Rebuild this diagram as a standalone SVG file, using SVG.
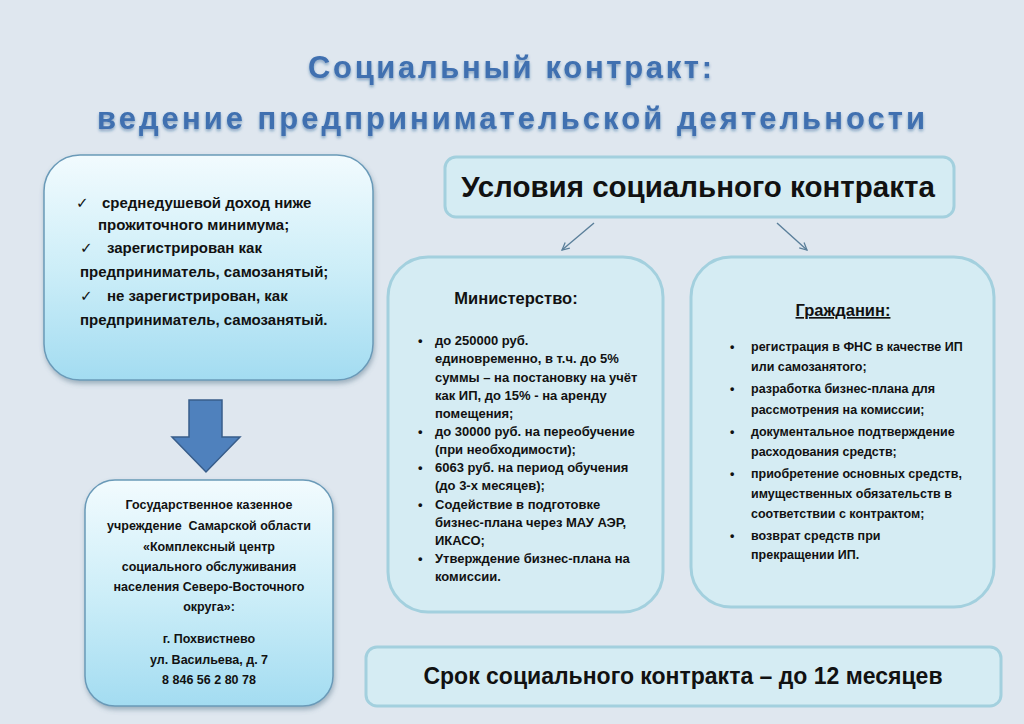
<svg xmlns="http://www.w3.org/2000/svg" width="1024" height="724" viewBox="0 0 1024 724">
<defs>
<linearGradient id="gradBlue" x1="0" y1="0" x2="0" y2="1">
<stop offset="0" stop-color="#f2fbfe"/>
<stop offset="0.5" stop-color="#cdeef8"/>
<stop offset="1" stop-color="#a3dcf1"/>
</linearGradient>
<filter id="shadow" x="-10%" y="-10%" width="120%" height="125%">
<feDropShadow dx="1" dy="3" stdDeviation="2.5" flood-color="#4a6a80" flood-opacity="0.45"/>
</filter>
<filter id="glow" x="-5%" y="-20%" width="110%" height="150%">
<feDropShadow dx="0" dy="2" stdDeviation="1.5" flood-color="#1f4f8a" flood-opacity="0.45"/>
</filter>
<marker id="arr" viewBox="0 0 10 10" refX="9" refY="5" markerWidth="9" markerHeight="9" orient="auto" markerUnits="userSpaceOnUse">
<path d="M1,1 L9,5 L1,9" fill="none" stroke="#5a7f9a" stroke-width="1.4"/>
</marker>
</defs>
<style>
.t{font-family:"Liberation Sans",Arial,sans-serif;font-weight:bold;fill:#111}
.title{font-family:"Liberation Sans",Arial,sans-serif;font-weight:bold;fill:#3f70b0;font-size:31px}
.grad{fill:url(#gradBlue);stroke:#6a9ab8;stroke-width:1.5}
.pale{fill:#d5ecf3;stroke:#a3d0de;stroke-width:3}
.chk{font-family:"DejaVu Sans",sans-serif;font-size:15px;fill:#111}
.s15{font-size:15px}
.s13{font-size:13px}
.s125{font-size:12.5px}
.c{text-anchor:middle}
.pre{white-space:pre}
.conn{stroke:#5a7f9a;stroke-width:1.4;fill:none}
</style>
<rect width="1024" height="724" fill="#dfe7ef"/>

<g id="title" filter="url(#glow)">
<text class="title" x="308" y="78" textLength="404" lengthAdjust="spacing">Социальный контракт:</text>
<text class="title" x="97" y="129" textLength="828" lengthAdjust="spacing">ведение предпринимательской деятельности</text>
</g>

<g id="criteria">
<rect class="grad" x="44" y="155" width="329" height="225" rx="36" filter="url(#shadow)"/>
<text class="chk" x="76" y="208">✓</text>
<text class="t s15" x="102" y="208">среднедушевой доход ниже</text>
<text class="t s15" x="98" y="230">прожиточного минимума;</text>
<text class="chk" x="80" y="253">✓</text>
<text class="t s15" x="107" y="253">зарегистрирован как</text>
<text class="t s15" x="80" y="277">предприниматель, самозанятый;</text>
<text class="chk" x="80" y="301">✓</text>
<text class="t s15" x="107" y="301">не зарегистрирован, как</text>
<text class="t s15" x="80" y="325">предприниматель, самозанятый.</text>
</g>

<g id="down-arrow">
<polygon points="189,400 222,400 222,437 240,437 206,472 172,437 189,437" fill="#4f81bd" stroke="#385d8a" stroke-width="1.5"/>
</g>

<g id="center">
<rect class="grad" x="85" y="480" width="248" height="226" rx="30" filter="url(#shadow)"/>
<text class="t s125 c" x="209" y="509">Государственное казенное</text>
<text class="t s125 c pre" x="209" y="530">учреждение  Самарской области</text>
<text class="t s125 c" x="209" y="551">«Комплексный центр</text>
<text class="t s125 c" x="209" y="571">социального обслуживания</text>
<text class="t s125 c" x="209" y="591">населения Северо-Восточного</text>
<text class="t s125 c" x="209" y="611">округа»:</text>
<text class="t s125 c" x="209" y="643">г. Похвистнево</text>
<text class="t s125 c" x="209" y="664">ул. Васильева, д. 7</text>
<text class="t s125 c" x="209" y="684">8 846 56 2 80 78</text>
</g>

<g id="conditions">
<rect class="pale" x="445" y="157" width="509" height="60" rx="11"/>
<text class="t c" x="698" y="197" font-size="29.5">Условия социального контракта</text>
</g>

<g id="connectors">
<line class="conn" x1="594" y1="223" x2="562" y2="250" marker-end="url(#arr)"/>
<line class="conn" x1="777" y1="223" x2="807" y2="250" marker-end="url(#arr)"/>
</g>

<g id="ministry">
<rect class="pale" x="388" y="257" width="275" height="355" rx="40"/>
<text class="t c" x="516" y="304" font-size="16.5">Министерство:</text>
<g class="t s13">
<text x="418" y="345">•</text>
<text x="435" y="345">до 250000 руб.</text>
<text x="435" y="363">единовременно, в т.ч. до 5%</text>
<text x="435" y="382">суммы – на постановку на учёт</text>
<text x="435" y="400">как ИП, до 15% - на аренду</text>
<text x="435" y="418">помещения;</text>
<text x="418" y="436">•</text>
<text x="435" y="436">до 30000 руб. на переобучение</text>
<text x="435" y="454">(при необходимости);</text>
<text x="418" y="472">•</text>
<text x="435" y="472">6063 руб. на период обучения</text>
<text x="435" y="490">(до 3-х месяцев);</text>
<text x="418" y="509">•</text>
<text x="435" y="509">Содействие в подготовке</text>
<text x="435" y="527">бизнес-плана через МАУ АЭР,</text>
<text x="435" y="545">ИКАСО;</text>
<text x="418" y="563">•</text>
<text x="435" y="563">Утверждение бизнес-плана на</text>
<text x="435" y="581">комиссии.</text>
</g>
</g>

<g id="citizen">
<rect class="pale" x="691" y="257" width="303" height="350" rx="40"/>
<text class="t c" x="843" y="316" font-size="16.5" text-decoration="underline">Гражданин:</text>
<g class="t s125">
<text x="730" y="351">•</text>
<text x="751" y="351">регистрация в ФНС в качестве ИП</text>
<text x="751" y="371">или самозанятого;</text>
<text x="730" y="393">•</text>
<text x="751" y="393">разработка бизнес-плана для</text>
<text x="751" y="414">рассмотрения на комиссии;</text>
<text x="730" y="436">•</text>
<text x="751" y="436">документальное подтверждение</text>
<text x="751" y="456">расходования средств;</text>
<text x="730" y="478">•</text>
<text x="751" y="478">приобретение основных средств,</text>
<text x="751" y="498">имущественных обязательств в</text>
<text x="751" y="518">соответствии с контрактом;</text>
<text x="730" y="540">•</text>
<text x="751" y="540">возврат средств при</text>
<text x="751" y="559">прекращении ИП.</text>
</g>
</g>

<g id="term">
<rect class="pale" x="366" y="647" width="635" height="59" rx="11"/>
<text class="t c" x="683" y="684" font-size="23">Срок социального контракта – до 12 месяцев</text>
</g>
</svg>
